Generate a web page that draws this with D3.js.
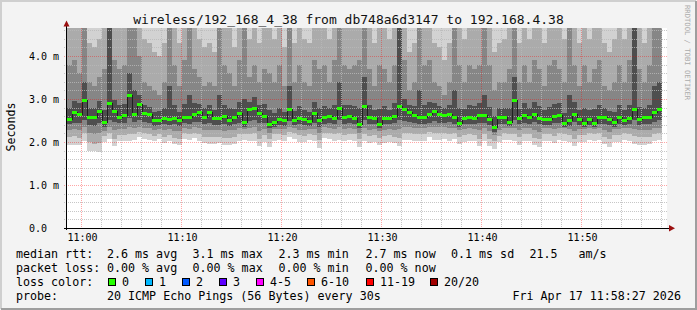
<!DOCTYPE html>
<html>
<head>
<meta charset="utf-8">
<script src="https://cdn.jsdelivr.net/npm/d3@7"></script>
<style>
html, body { margin: 0; padding: 0; background: #f3f3f3; }
svg { display: block; font-family: "DejaVu Sans Mono", monospace; }
</style>
</head>
<body>
<svg id="chart" width="697" height="310"></svg>
<script>
// smokeping graph: 20 pings every 30s, one hour window
const title = "wireless/192_168_4_38 from db748a6d3147 to 192.168.4.38";
const startTime = new Date(2026, 3, 17, 10, 58, 36);
const stepSec = 30;

// median rtt per step (ms)
const median = [2.54,2.70,2.66,2.98,2.58,2.57,2.73,2.47,2.91,2.73,
  2.58,2.62,3.10,2.66,2.89,2.67,2.65,2.50,2.52,2.56,
  2.53,2.56,2.50,2.58,2.58,2.66,2.70,2.57,2.70,2.55,
  2.55,2.60,2.52,2.57,2.67,2.47,2.76,2.80,2.67,2.60,
  2.42,2.46,2.53,2.50,2.77,2.50,2.56,2.53,2.48,2.67,
  2.50,2.57,2.60,2.55,2.79,2.57,2.60,2.55,2.42,2.84,
  2.58,2.55,2.42,2.55,2.55,2.60,2.84,2.76,2.69,2.63,
  2.57,2.57,2.65,2.72,2.65,2.63,2.65,2.58,2.45,2.56,
  2.58,2.56,2.63,2.63,2.53,2.34,2.58,2.58,2.47,2.98,
  2.56,2.63,2.58,2.65,2.56,2.53,2.53,2.60,2.63,2.45,
  2.50,2.65,2.53,2.45,2.53,2.44,2.58,2.58,2.53,2.47,
  2.58,2.52,2.56,2.76,2.53,2.58,2.58,2.69,2.76];

// smoke: ping spread per step (ms)
const minRtt = [1.93,1.93,1.92,2.02,1.80,1.78,1.77,2.00,2.06,1.91,
  2.03,2.03,2.03,2.05,2.12,2.08,2.05,2.03,2.06,1.97,
  2.03,1.95,1.93,2.07,2.04,2.09,2.03,1.97,1.95,1.96,
  1.97,1.93,1.94,1.96,2.03,2.04,2.02,2.03,1.91,2.01,
  1.89,2.03,2.04,2.02,2.12,2.06,2.01,2.01,2.05,2.03,
  1.85,2.09,2.07,2.03,2.05,2.02,2.04,2.03,1.88,2.03,
  1.97,2.01,1.93,1.97,2.01,1.97,1.91,2.05,2.05,2.03,
  2.03,2.03,2.11,2.05,2.05,2.06,2.03,2.06,1.95,2.01,
  2.03,2.03,1.91,2.03,1.91,1.83,1.99,2.05,2.05,2.03,
  1.93,2.03,2.03,1.93,1.89,2.03,2.03,1.97,2.05,2.03,
  2.01,1.91,2.01,2.01,2.05,2.03,2.05,1.95,1.88,2.01,
  2.01,2.05,2.03,1.95,1.93,1.93,1.95,2.03,2.05];
const p10 = [2.12,2.14,2.10,2.20,2.00,1.96,1.98,2.14,2.20,2.08,
  2.16,2.17,2.18,2.18,2.24,2.20,2.18,2.14,2.18,2.12,
  2.16,2.10,2.08,2.20,2.18,2.22,2.18,2.12,2.12,2.12,
  2.12,2.10,2.10,2.12,2.18,2.18,2.18,2.20,2.08,2.16,
  2.06,2.18,2.18,2.16,2.24,2.20,2.16,2.15,2.18,2.17,
  2.04,2.22,2.20,2.18,2.20,2.17,2.19,2.18,2.06,2.18,
  2.14,2.16,2.10,2.13,2.16,2.12,2.10,2.20,2.20,2.18,
  2.18,2.18,2.24,2.20,2.20,2.20,2.18,2.20,2.12,2.16,
  2.18,2.17,2.08,2.18,2.08,2.02,2.14,2.20,2.19,2.18,
  2.12,2.18,2.18,2.10,2.06,2.18,2.18,2.14,2.20,2.18,
  2.16,2.08,2.16,2.16,2.20,2.18,2.20,2.12,2.06,2.16,
  2.16,2.20,2.18,2.14,2.12,2.12,2.12,2.18,2.20];
const p25 = [2.28,2.30,2.29,2.34,2.20,2.18,2.22,2.25,2.36,2.28,
  2.30,2.31,2.35,2.32,2.36,2.33,2.32,2.28,2.30,2.27,
  2.30,2.26,2.25,2.32,2.31,2.34,2.32,2.28,2.28,2.27,
  2.28,2.26,2.27,2.28,2.32,2.30,2.33,2.34,2.26,2.30,
  2.22,2.30,2.31,2.30,2.36,2.32,2.29,2.29,2.31,2.31,
  2.22,2.34,2.33,2.31,2.34,2.31,2.32,2.31,2.22,2.33,
  2.29,2.30,2.25,2.28,2.30,2.28,2.30,2.34,2.34,2.32,
  2.32,2.32,2.36,2.34,2.34,2.34,2.32,2.33,2.27,2.30,
  2.32,2.31,2.27,2.32,2.26,2.16,2.29,2.33,2.32,2.33,
  2.28,2.32,2.32,2.27,2.24,2.32,2.32,2.30,2.33,2.32,
  2.30,2.26,2.30,2.30,2.33,2.31,2.33,2.28,2.23,2.30,
  2.31,2.33,2.32,2.30,2.27,2.28,2.28,2.32,2.33];
const p40 = [2.42,2.45,2.44,2.50,2.40,2.38,2.45,2.36,2.52,2.46,
  2.44,2.45,2.55,2.46,2.50,2.46,2.45,2.38,2.40,2.42,
  2.40,2.42,2.38,2.44,2.42,2.46,2.47,2.42,2.44,2.40,
  2.40,2.42,2.38,2.42,2.45,2.36,2.48,2.50,2.45,2.44,
  2.32,2.36,2.40,2.38,2.48,2.40,2.42,2.40,2.37,2.45,
  2.36,2.42,2.44,2.42,2.50,2.42,2.44,2.42,2.32,2.50,
  2.43,2.42,2.32,2.42,2.42,2.44,2.52,2.48,2.46,2.45,
  2.42,2.42,2.45,2.48,2.45,2.44,2.46,2.42,2.35,2.42,
  2.43,2.42,2.45,2.45,2.40,2.24,2.42,2.43,2.37,2.52,
  2.42,2.45,2.43,2.46,2.42,2.40,2.40,2.44,2.45,2.35,
  2.38,2.46,2.40,2.35,2.40,2.34,2.43,2.43,2.40,2.36,
  2.43,2.40,2.42,2.50,2.40,2.43,2.43,2.47,2.50];
const p60 = [2.80,2.95,2.90,3.40,2.80,2.78,2.95,2.75,5.00,2.98,
  2.85,2.88,3.60,3.20,3.10,2.85,2.82,2.70,2.72,2.78,
  3.30,2.85,2.70,2.88,3.10,2.90,2.88,2.78,2.86,2.74,
  3.10,2.86,2.80,2.76,2.92,3.00,2.94,3.05,2.85,2.88,
  2.75,2.68,2.80,2.70,3.30,2.72,2.84,2.74,2.70,2.92,
  2.80,2.84,2.80,2.85,3.40,2.86,2.85,2.84,2.80,3.50,
  2.86,2.74,2.76,2.84,2.74,2.90,5.20,3.00,2.86,2.84,
  3.20,2.86,2.92,2.90,2.84,2.80,2.86,3.20,2.78,2.76,
  2.86,2.84,2.90,3.10,2.82,2.60,2.78,2.78,2.78,3.50,
  2.76,2.90,2.78,2.92,2.84,2.74,2.82,2.88,2.90,2.68,
  3.10,2.92,2.74,2.78,2.74,2.76,2.86,2.78,2.72,2.70,
  2.86,2.74,2.86,5.00,2.82,2.78,2.86,3.30,3.40];
const p75 = [3.8,3.9,3.6,5.0,3.4,3.3,3.5,3.7,5.5,3.9,
  3.7,3.8,4.8,4.9,4.0,3.4,3.3,3.2,3.1,3.4,
  5.0,3.8,3.3,3.9,4.8,3.7,3.5,3.3,3.4,3.3,
  4.9,3.8,3.6,3.3,3.9,4.8,3.5,3.8,3.4,3.7,
  3.6,3.4,3.8,3.3,5.0,3.4,3.8,3.4,3.3,3.9,
  3.7,3.8,3.4,3.9,5.0,3.8,3.7,3.8,3.9,5.1,
  3.7,3.3,3.8,3.7,3.4,3.8,5.6,3.9,3.2,3.4,
  4.9,3.8,3.9,3.4,3.3,3.1,3.4,4.9,3.8,3.4,
  3.8,3.7,3.8,4.9,3.8,3.2,3.4,3.4,3.7,5.1,
  3.4,3.8,3.4,3.9,3.7,3.3,3.8,3.9,3.7,3.4,
  4.9,3.8,3.3,3.8,3.4,3.7,3.9,3.3,3.2,3.4,
  3.8,3.4,3.9,5.5,3.7,3.4,3.8,4.8,4.9];
const p90 = [5.1,4.9,5.0,5.6,4.3,4.2,4.4,4.8,6.0,5.0,
  4.9,5.0,5.4,5.3,4.9,4.4,4.3,4.1,4.0,4.3,
  5.5,4.8,4.3,4.9,5.2,4.8,4.4,4.2,4.3,4.1,
  5.3,5.0,4.9,4.2,4.9,5.2,4.4,4.8,4.3,5.0,
  4.9,4.4,4.8,4.2,5.4,4.3,4.9,4.4,4.3,5.0,
  4.8,4.9,4.4,5.0,5.5,4.9,4.8,4.9,5.0,5.6,
  4.9,4.3,5.0,4.9,4.4,4.9,6.2,5.0,4.1,4.3,
  5.4,4.9,5.0,4.3,4.2,3.9,4.3,5.3,4.9,4.4,
  5.0,4.8,4.9,5.3,4.9,4.1,4.3,4.4,4.8,5.6,
  4.3,4.9,4.4,5.0,4.8,4.3,4.9,5.0,4.8,4.4,
  5.3,5.0,4.3,4.9,4.4,4.8,5.0,4.3,4.1,4.4,
  4.9,4.4,5.0,6.1,4.8,4.3,4.9,5.3,5.4];
const maxRtt = [5.8,5.6,5.9,6.4,5.2,5.4,5.1,5.7,7.2,5.9,
  5.6,5.8,6.3,6.1,5.7,5.3,5.2,4.9,4.8,5.1,
  6.5,5.6,5.0,5.8,6.1,5.5,5.2,5.0,5.1,4.9,
  6.2,5.7,5.8,5.0,5.9,6.0,5.1,5.6,5.0,5.8,
  5.7,5.2,5.6,5.0,6.3,5.1,5.7,5.2,5.1,5.9,
  5.6,5.7,5.2,5.8,6.4,5.7,5.6,5.7,5.9,6.5,
  5.8,5.1,5.9,5.7,5.2,5.7,7.1,5.9,4.9,5.0,
  6.3,5.7,5.8,5.1,5.0,4.8,5.1,6.2,5.7,5.2,
  5.9,5.6,5.7,6.2,5.7,4.9,5.1,5.2,5.6,6.6,
  5.1,5.7,5.2,5.9,5.6,5.0,5.7,5.8,5.6,5.2,
  6.1,5.8,5.1,5.7,5.2,5.6,5.9,5.1,4.9,5.2,
  5.7,5.2,5.8,7.0,5.6,5.1,5.7,6.2,6.3];

const yTicks = [0, 1, 2, 3, 4];
const lossLabels = ["0", "1", "2", "3", "4-5", "6-10", "11-19", "20/20"];
const lossColors = ["#26ff00", "#00b8ff", "#0059ff", "#5e00ff", "#ff00ff", "#ff5500", "#ff0000", "#a10000"];
const legendRows = [
  [["median rtt:", 16], ["2.6 ms avg", 107], ["3.1 ms max", 192.5], ["2.3 ms min", 278.5],
   ["2.7 ms now", 365.5], ["0.1 ms sd", 451], ["21.5", 529.5], ["am/s", 578.5]],
  [["packet loss:", 16], ["0.00 % avg", 107], ["0.00 % max", 192.5], ["0.00 % min", 278.5], ["0.00 % now", 365.5]],
  [["loss color:", 16]],
  [["probe:", 16], ["20 ICMP Echo Pings (56 Bytes) every 30s", 107], ["Fri Apr 17 11:58:27 2026", 512.5]]
];
const lossBoxX = [108, 145, 182, 219, 256, 307, 366, 430];

const W = 697, H = 310;
const svg = d3.select("#chart");

// frame
svg.append("rect").attr("width", W).attr("height", H).attr("fill", "#f3f3f3");
svg.append("path").attr("d", "M1,309V1H696").attr("fill", "none")
  .attr("stroke", "#cfcfcf").attr("stroke-width", 2);
svg.append("path").attr("d", "M1,309H696V1").attr("fill", "none")
  .attr("stroke", "#9e9e9e").attr("stroke-width", 2);

const x = d3.scaleTime()
  .domain([startTime, d3.timeMinute.offset(startTime, 60)])
  .range([67, 667]);
const y = d3.scaleLinear().domain([0, 4.651]).range([228, 28]);
const [yBot, yTop] = y.range();

svg.append("rect").attr("x", 66).attr("y", yTop).attr("width", 601).attr("height", yBot - yTop)
  .attr("fill", "#ffffff");

svg.append("defs").append("clipPath").attr("id", "plot").append("rect")
  .attr("x", 66).attr("y", yTop).attr("width", 601).attr("height", yBot - yTop);

const times = median.map((_, i) => d3.timeSecond.offset(startTime, i * stepSec));
const x0 = i => Math.round(x(times[i]));
const x1 = i => Math.round(x(d3.timeSecond.offset(times[i], stepSec)));

// smoke bands, outer to inner
const bands = [
  { lo: minRtt, hi: maxRtt, color: "#d2d2d2" },
  { lo: p10, hi: p90, color: "#ababab" },
  { lo: p25, hi: p75, color: "#868686" },
  { lo: p40, hi: p60, color: "#4e4e4e" }
];
const smoke = svg.append("g").attr("clip-path", "url(#plot)").attr("shape-rendering", "crispEdges");
bands.forEach(b => {
  smoke.append("g").selectAll("rect")
    .data(median.map((_, i) => i))
    .enter().append("rect")
    .attr("x", i => x0(i))
    .attr("width", i => x1(i) - x0(i))
    .attr("y", i => Math.round(y(b.hi[i])))
    .attr("height", i => Math.round(y(b.lo[i])) - Math.round(y(b.hi[i])))
    .attr("fill", b.color);
});

// dotted grid: one pixel on, one off, built as tiny squares
const minorY = d3.range(1, 24).map(v => v / 5).filter(v => Math.abs(v - Math.round(v)) > 1e-6 && y(v) >= yTop);
const minorX = x.ticks(d3.timeMinute.every(2)).filter(d => d.getMinutes() % 10 !== 0);
const majorX = x.ticks(d3.timeMinute.every(10));
const hDots = rows => rows.map(r => d3.range(64, 668, 2).map(c => `M${c},${r}h1v1h-1z`).join("")).join("");
const vDots = cols => cols.map(c => d3.range(yTop, yBot + 2, 2).map(r => `M${c},${r}h1v1h-1z`).join("")).join("");

const grid = svg.append("g").attr("shape-rendering", "crispEdges");
grid.append("path")
  .attr("d", hDots(minorY.map(v => Math.round(y(v)))) + vDots(minorX.map(d => Math.round(x(d)))))
  .attr("fill", "rgba(185,185,185,0.8)");
grid.append("path")
  .attr("d", hDots(yTicks.filter(v => v > 0).map(v => Math.round(y(v)))) + vDots(majorX.map(d => Math.round(x(d)))))
  .attr("fill", "rgba(255,0,0,0.35)");

// median line + loss coloured marks
const stepPts = median.map((v, i) => [x0(i), Math.round(y(v)) + 0.5]);
stepPts.push([x1(median.length - 1), Math.round(y(median[median.length - 1])) + 0.5]);
svg.append("path")
  .attr("d", d3.line().curve(d3.curveStepAfter)(stepPts))
  .attr("fill", "none").attr("stroke", "#202020").attr("stroke-width", 1)
  .attr("shape-rendering", "crispEdges");
svg.append("g").attr("shape-rendering", "crispEdges").selectAll("rect")
  .data(median).enter().append("rect")
  .attr("x", (v, i) => x0(i))
  .attr("width", (v, i) => x1(i) - x0(i))
  .attr("y", v => Math.round(y(v)) - 1)
  .attr("height", 3)
  .attr("fill", lossColors[0]);

// axes
svg.append("line").attr("x1", 64).attr("x2", 670).attr("y1", yBot + 0.5).attr("y2", yBot + 0.5)
  .attr("stroke", "#000");
svg.append("line").attr("x1", 66.5).attr("x2", 66.5).attr("y1", 26).attr("y2", yBot + 2)
  .attr("stroke", "#000");
svg.append("path").attr("d", "M63.5,26.5L69.5,26.5L66.5,20.5Z").attr("fill", "#9b1010");
svg.append("path").attr("d", "M669,225L669,231.5L675,228.2Z").attr("fill", "#9b1010");

const xAxis = d3.axisBottom(x)
  .ticks(d3.timeMinute.every(10))
  .tickFormat(d3.timeFormat("%H:%M"))
  .tickSize(0);
const gx = svg.append("g").attr("transform", `translate(1,${yBot})`).call(xAxis);
gx.select(".domain").remove();
gx.selectAll("text")
  .attr("y", 13).attr("dy", null)
  .attr("font-family", "DejaVu Sans Mono").attr("font-size", 10).attr("fill", "#000");

svg.append("g").selectAll("text").data(yTicks).enter().append("text")
  .attr("x", 29).attr("y", v => Math.round(y(v)) + 4)
  .attr("font-size", 10)
  .text(v => v === 0 ? "0.0" : v.toFixed(1) + " m");

svg.append("text")
  .attr("transform", "translate(14.5,127) rotate(-90)")
  .attr("text-anchor", "middle").attr("font-size", 11.6)
  .text("Seconds");

svg.append("text")
  .attr("transform", "translate(685,5) rotate(90)")
  .attr("font-size", 7.2).attr("fill", "#ababab")
  .text("RRDTOOL / TOBI OETIKER");

svg.append("text")
  .attr("x", 348.5).attr("y", 23.5).attr("text-anchor", "middle")
  .attr("font-size", 13).attr("fill", "#111")
  .text(title);

// legend
const rowBase = [258, 272, 286, 300];
legendRows.forEach((row, r) => {
  svg.append("g").selectAll("text").data(row).enter().append("text")
    .attr("x", d => d[1]).attr("y", rowBase[r])
    .attr("font-size", 11.66)
    .text(d => d[0]);
});
const lossG = svg.append("g").selectAll("g").data(lossLabels).enter().append("g");
lossG.append("rect")
  .attr("x", (d, i) => lossBoxX[i] + 0.5).attr("y", 278.5)
  .attr("width", 7).attr("height", 7)
  .attr("fill", (d, i) => lossColors[i]).attr("stroke", "#000");
lossG.append("text")
  .attr("x", (d, i) => lossBoxX[i] + 14).attr("y", rowBase[2])
  .attr("font-size", 11.66)
  .text(d => d);
</script>
</body>
</html>
